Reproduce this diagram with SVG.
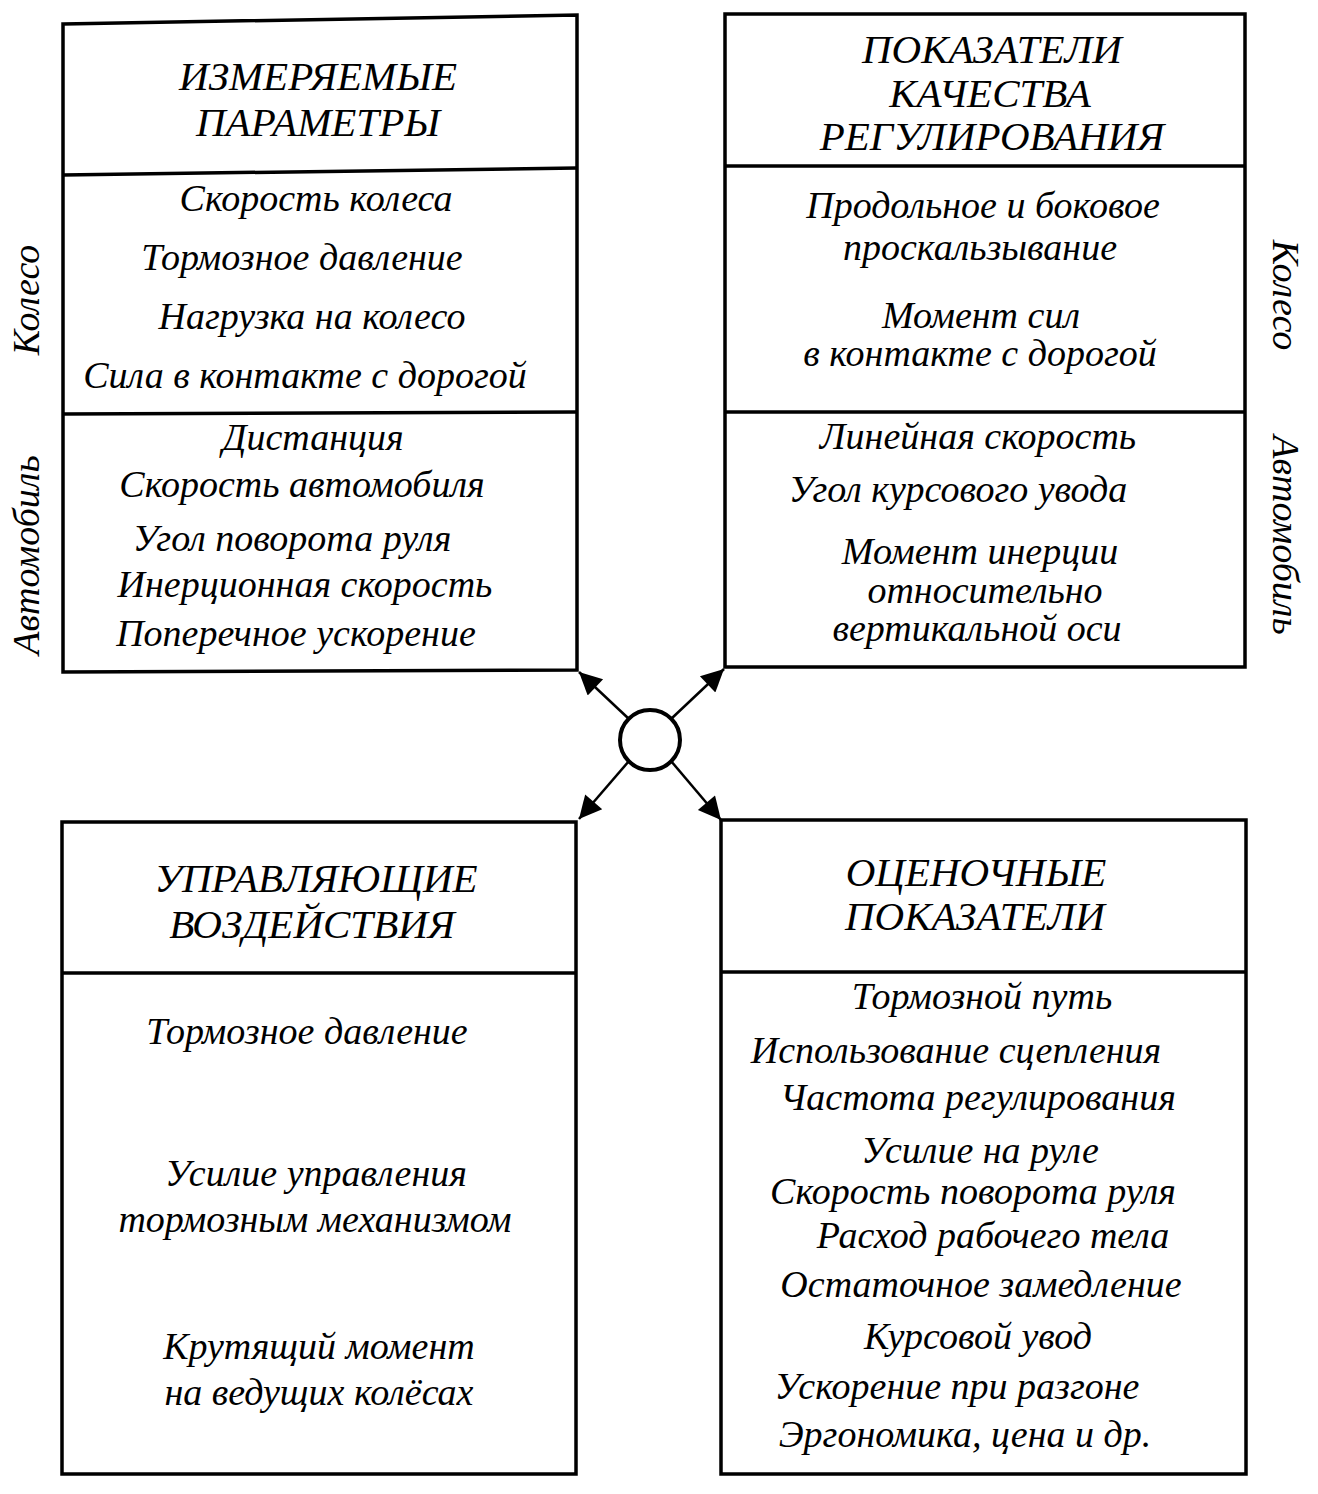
<svg xmlns="http://www.w3.org/2000/svg" width="1318" height="1494" viewBox="0 0 1318 1494">
<style>
.box{fill:none;stroke:#000;stroke-width:3.5}
.div{stroke:#000;stroke-width:3.5}
text{font-family:"Liberation Serif","Times New Roman",serif;font-style:italic;fill:#000;text-anchor:middle}
.h{font-size:41px}
.t{font-size:38px}
.con{stroke:#000;stroke-width:2.5;fill:none;marker-end:url(#ah)}
</style>
<defs>
<marker id="ah" viewBox="0 0 10 10" refX="10" refY="5" markerWidth="11" markerHeight="9" markerUnits="strokeWidth" orient="auto">
<path d="M0,0 L10,5 L0,10 z" fill="#000"/>
</marker>
</defs>
<rect width="1318" height="1494" fill="#fff"/>
<g id="measured">
<path class="box" d="M63,24 L577,15 L577,670 L63,672 Z"/>
<line class="div" x1="63" y1="175" x2="577" y2="168"/>
<line class="div" x1="63" y1="414" x2="577" y2="412"/>
<text class="h" x="318" y="90">ИЗМЕРЯЕМЫЕ</text>
<text class="h" x="318" y="136">ПАРАМЕТРЫ</text>
<text class="t" x="316" y="211">Скорость колеса</text>
<text class="t" x="302" y="270">Тормозное давление</text>
<text class="t" x="312" y="329">Нагрузка на колесо</text>
<text class="t" x="305" y="388">Сила в контакте с дорогой</text>
<text class="t" x="313" y="450">Дистанция</text>
<text class="t" x="302" y="497">Скорость автомобиля</text>
<text class="t" x="292" y="551">Угол поворота руля</text>
<text class="t" x="305" y="597">Инерционная скорость</text>
<text class="t" x="296" y="646">Поперечное ускорение</text>
<text class="t" transform="translate(39,300) rotate(-90)">Колесо</text>
<text class="t" transform="translate(39,555) rotate(-90)">Автомобиль</text>
</g>
<g id="quality">
<rect class="box" x="725" y="14" width="520" height="653"/>
<line class="div" x1="725" y1="166" x2="1245" y2="166"/>
<line class="div" x1="725" y1="412" x2="1245" y2="412"/>
<text class="h" x="992" y="63">ПОКАЗАТЕЛИ</text>
<text class="h" x="990" y="107">КАЧЕСТВА</text>
<text class="h" x="992" y="150">РЕГУЛИРОВАНИЯ</text>
<text class="t" x="983" y="218">Продольное и боковое</text>
<text class="t" x="980" y="260">проскальзывание</text>
<text class="t" x="981" y="328">Момент  сил</text>
<text class="t" x="980" y="366">в контакте с дорогой</text>
<text class="t" x="978" y="449">Линейная скорость</text>
<text class="t" x="958" y="502">Угол курсового увода</text>
<text class="t" x="980" y="564">Момент инерции</text>
<text class="t" x="985" y="603">относительно</text>
<text class="t" x="977" y="641">вертикальной оси</text>
<text class="t" transform="translate(1273,295) rotate(90)">Колесо</text>
<text class="t" transform="translate(1273,535) rotate(90)">Автомобиль</text>
</g>
<g id="control">
<rect class="box" x="62" y="822" width="514" height="652"/>
<line class="div" x1="62" y1="973" x2="576" y2="973"/>
<text class="h" x="316" y="892">УПРАВЛЯЮЩИЕ</text>
<text class="h" x="312" y="938">ВОЗДЕЙСТВИЯ</text>
<text class="t" x="307" y="1044">Тормозное давление</text>
<text class="t" x="316" y="1186">Усилие управления</text>
<text class="t" x="315" y="1232">тормозным механизмом</text>
<text class="t" x="319" y="1359">Крутящий момент</text>
<text class="t" x="319" y="1405">на ведущих колёсах</text>
</g>
<g id="evaluation">
<rect class="box" x="721" y="820" width="525" height="654"/>
<line class="div" x1="721" y1="972" x2="1246" y2="972"/>
<text class="h" x="976" y="886">ОЦЕНОЧНЫЕ</text>
<text class="h" x="975" y="930">ПОКАЗАТЕЛИ</text>
<text class="t" x="982" y="1009">Тормозной путь</text>
<text class="t" x="956" y="1063">Использование сцепления</text>
<text class="t" x="978" y="1110">Частота регулирования</text>
<text class="t" x="980" y="1163">Усилие на руле</text>
<text class="t" x="973" y="1204">Скорость поворота руля</text>
<text class="t" x="993" y="1248">Расход рабочего тела</text>
<text class="t" x="981" y="1297">Остаточное замедление</text>
<text class="t" x="978" y="1349">Курсовой увод</text>
<text class="t" x="957" y="1399">Ускорение при разгоне</text>
<text class="t" x="965" y="1447">Эргономика, цена и др.</text>
</g>
<g id="hub">
<circle cx="650" cy="740" r="30" fill="#fff" stroke="#000" stroke-width="4"/>
</g>
<g id="connectors">
<line class="con" x1="629" y1="719" x2="579" y2="672"/>
<line class="con" x1="671" y1="719" x2="724" y2="669"/>
<line class="con" x1="629" y1="761" x2="579" y2="819"/>
<line class="con" x1="671" y1="761" x2="721" y2="820"/>
</g>
</svg>
